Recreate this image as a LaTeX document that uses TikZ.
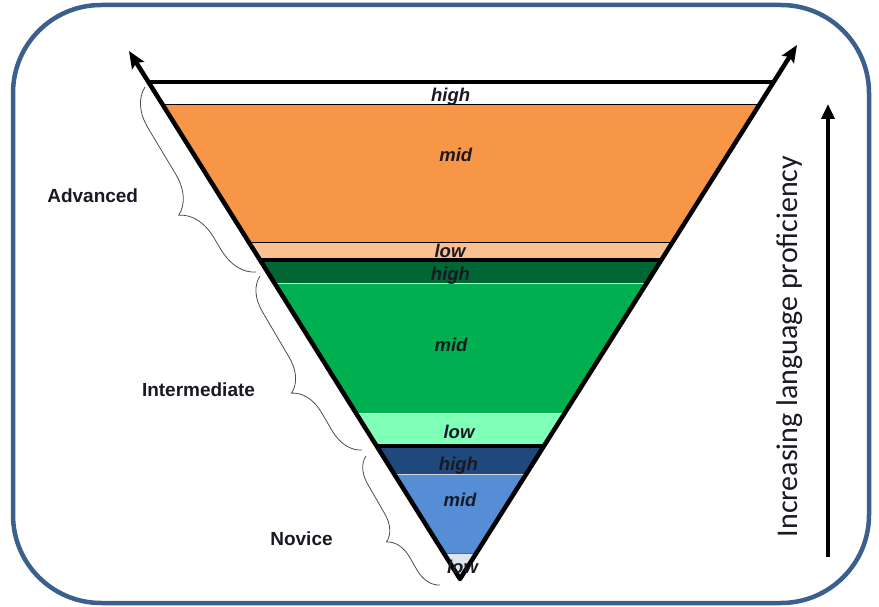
\documentclass[tikz,border=0pt]{standalone}
\usepackage{fontspec}
\setmainfont{Liberation Sans}
\newfontfamily\calibfont{Carlito}
\usetikzlibrary{arrows.meta,decorations.pathreplacing}
\definecolor{frameblue}{RGB}{59,96,142}
\definecolor{cOrange}{RGB}{247,150,70}
\definecolor{cOrangeL}{RGB}{250,192,144}
\definecolor{cGreenD}{RGB}{0,102,51}
\definecolor{cGreen}{RGB}{0,176,80}
\definecolor{cGreenL}{RGB}{128,255,184}
\definecolor{cBlueD}{RGB}{31,73,125}
\definecolor{cBlue}{RGB}{85,142,213}
\definecolor{cBlueL}{RGB}{220,230,242}
\definecolor{txt}{RGB}{25,25,35}
\begin{document}
\begin{tikzpicture}[x=1pt,y=-1pt,
  frame/.style={draw=frameblue,line width=4.5pt,rounded corners=88pt},
  side/.style={line width=4.5pt,line join=round,{Stealth[length=17pt,width=14pt,inset=3pt]}-{Stealth[length=17pt,width=14pt,inset=3pt]}},
  thickrule/.style={line width=4pt},
  thinrule/.style={line width=0.9pt},
  bandlbl/.style={font=\bfseries\itshape\fontsize{18.5}{22}\selectfont,text=txt,inner sep=0pt,anchor=base},
  levellbl/.style={font=\bfseries\fontsize{19}{23}\selectfont,text=txt,inner sep=0pt,anchor=base},
  bracestyle/.style={decorate,draw=black!70,line width=0.8pt},
  proarrow/.style={line width=3.5pt,-{Triangle[length=15pt,width=13pt]}}
]
\useasboundingbox (0,0) rectangle (879,607);
\draw[frame] (13,5) rectangle (869,603);

\coordinate (apex) at (460,579);
\coordinate (ltip) at (129,51);
\coordinate (rtip) at (797,45);

\begin{scope}
\clip (apex) -- (ltip) -- (rtip) -- cycle;
\fill[white]    (100,82)  rectangle (830,104);
\fill[cOrange]  (100,104) rectangle (830,242);
\fill[cOrangeL] (100,242) rectangle (830,260);
\fill[cGreenD]  (100,260) rectangle (830,283);
\fill[cGreen]   (100,283) rectangle (830,413);
\fill[cGreenL]  (100,413) rectangle (830,446);
\fill[cBlueD]   (100,446) rectangle (830,474);
\fill[cBlue]    (100,474) rectangle (830,553);
\fill[cBlueL]   (100,553) rectangle (830,590);
\draw[thickrule] (100,82) -- (830,82);
\draw[thinrule] (100,104) -- (830,104);
\draw[thinrule] (100,242) -- (830,242);
\draw[thickrule] (100,260) -- (830,260);
\draw[thinrule,draw=white!85!black] (100,283) -- (830,283);
\draw[thinrule,draw=white] (100,413) -- (830,413);
\draw[thickrule] (100,446) -- (830,446);
\draw[thinrule,draw=white!85!black] (100,474) -- (830,474);
\draw[thinrule,draw=black!60] (100,553) -- (830,553);
\end{scope}

\draw[side] (ltip) -- (apex) -- (rtip);

\node[bandlbl] (h1) at (450.7,101.7) {high};
\node[bandlbl] (m1) at (455.8,161.7) {mid};
\node[bandlbl] (l1) at (450,257.3) {low};
\node[bandlbl] (h2) at (450.5,280.7) {high};
\node[bandlbl] (m2) at (451,351) {mid};
\node[bandlbl] (l2) at (459,438) {low};
\node[bandlbl] (h3) at (458.5,470.7) {high};
\node[bandlbl] (m3) at (460,506) {mid};
\node[bandlbl] (l3) at (462.5,573) {low};

\coordinate (advA) at (256,272);
\coordinate (advB) at (145,87);
\coordinate (intA) at (362,450);
\coordinate (intB) at (260,276);
\coordinate (novA) at (440,585);
\coordinate (novB) at (366,456);
\draw[bracestyle,decoration={brace,amplitude=37pt,aspect=0.41}] (advA) -- (advB);
\draw[bracestyle,decoration={brace,amplitude=32pt,aspect=0.42}] (intA) -- (intB);
\draw[bracestyle,decoration={brace,amplitude=25pt,aspect=0.43}] (novA) -- (novB);

\node[levellbl] (adv) at (92.7,203) {Advanced};
\node[levellbl] (int) at (198.5,396) {Intermediate};
\node[levellbl] (nov) at (301.5,545) {Novice};

\coordinate (pb) at (828,557);
\coordinate (pt) at (828,104);
\draw[proarrow] (pb) -- (pt);
\node[rotate=90,anchor=base,inner sep=0pt,font=\calibfont\fontsize{30}{36}\selectfont,text=txt] (prof) at (797,346.5) {Increasing language proficiency};
\end{tikzpicture}
\end{document}
